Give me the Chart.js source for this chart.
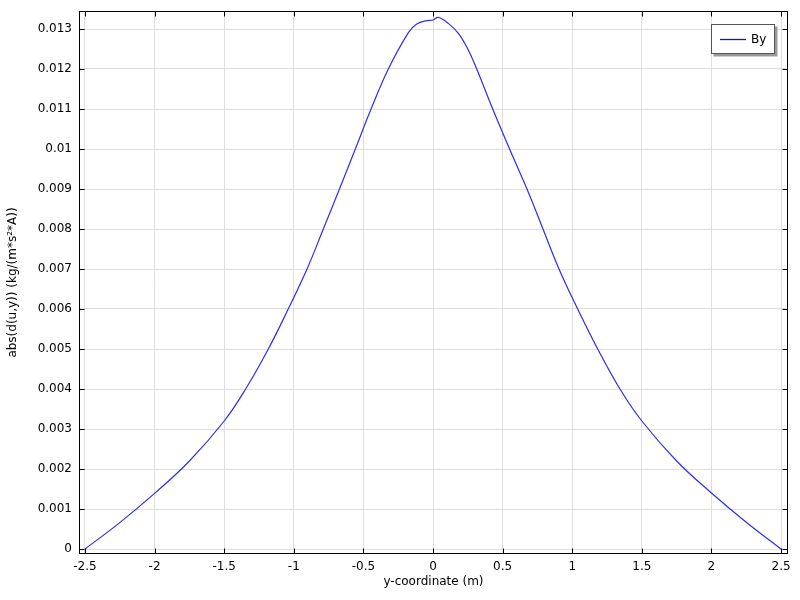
<!DOCTYPE html>
<html>
<head>
<meta charset="utf-8">
<script src="https://cdn.jsdelivr.net/npm/chart.js"></script>
<style>
  html, body { margin: 0; padding: 0; background: #fff; }
  canvas { display: block; }
</style>
</head>
<body>
<canvas id="chart" width="800" height="600"></canvas>
<script>
// y-coordinate (m) and abs(d(u,y)) values
const yCoord = [-2.5, -2.25, -2.0, -1.75, -1.5, -1.346, -1.183, -1.04, -0.905, -0.788, -0.672, -0.558,
  -0.445, -0.321, -0.177, -0.117, -0.045, 0, 0.038, 0.11, 0.182, 0.25, 0.314, 0.429, 0.55, 0.675, 0.79,
  0.905, 1.039, 1.183, 1.343, 1.5, 1.75, 2.0, 2.25, 2.5];
const byValues = [0, 0.00066, 0.00139, 0.0022, 0.0032, 0.004, 0.005, 0.006, 0.007, 0.008, 0.009, 0.01,
  0.011, 0.012, 0.01291, 0.013125, 0.01321, 0.013225, 0.01329, 0.01314, 0.01289, 0.0125, 0.012, 0.011, 0.01, 0.009, 0.008,
  0.007, 0.006, 0.005, 0.004, 0.0032, 0.0022, 0.0014, 0.00067, 0];

const xTickValues = [-2.5, -2, -1.5, -1, -0.5, 0, 0.5, 1, 1.5, 2, 2.5];
const xTickLabels = ["-2.5", "-2", "-1.5", "-1", "-0.5", "0", "0.5", "1", "1.5", "2", "2.5"];
const yTickValues = [0, 0.001, 0.002, 0.003, 0.004, 0.005, 0.006, 0.007, 0.008, 0.009, 0.01, 0.011, 0.012, 0.013];
const yTickLabels = ["0", "0.001", "0.002", "0.003", "0.004", "0.005", "0.006", "0.007", "0.008", "0.009",
  "0.01", "0.011", "0.012", "0.013"];

const lineColor = "rgb(45,45,240)";

Chart.defaults.font.family = "'DejaVu Sans', sans-serif";
Chart.defaults.font.size = 12;
Chart.defaults.color = "#000";

// black frame with short inward ticks on all four sides, plus the boxed legend
const frameAndLegend = {
  id: "frameAndLegend",
  afterDatasetsDraw(chart) {
    const { ctx, chartArea: a, scales: { x, y } } = chart;
    const L = Math.round(a.left) + 0.5, R = Math.round(a.right) - 0.5;
    const T = Math.round(a.top) + 0.5, B = Math.round(a.bottom) - 0.5;
    ctx.save();
    ctx.strokeStyle = "#000";
    ctx.lineWidth = 1;
    ctx.beginPath();
    for (const v of xTickValues) {
      const px = Math.round(x.getPixelForValue(v)) + 0.5;
      ctx.moveTo(px, T); ctx.lineTo(px, T + 5);
      ctx.moveTo(px, B); ctx.lineTo(px, B - 5);
    }
    for (const v of yTickValues) {
      const py = Math.round(y.getPixelForValue(v)) + 0.5;
      ctx.moveTo(L, py); ctx.lineTo(L + 5, py);
      ctx.moveTo(R, py); ctx.lineTo(R - 5, py);
    }
    ctx.stroke();
    ctx.strokeRect(L, T, R - L, B - T);

    // legend box
    const bx = 711.5, by = 24.5, bw = 63, bh = 29;
    ctx.fillStyle = "#9a9a9a";
    ctx.fillRect(bx + 2, by + 2, bw + 1, bh + 1);
    ctx.fillStyle = "#fff";
    ctx.fillRect(bx, by, bw, bh);
    ctx.strokeStyle = "#555";
    ctx.strokeRect(bx, by, bw, bh);
    ctx.strokeStyle = "#1010d0";
    ctx.lineWidth = 1.3;
    ctx.beginPath();
    ctx.moveTo(720, 39.5); ctx.lineTo(746, 39.5);
    ctx.stroke();
    ctx.fillStyle = "#000";
    ctx.font = "12px 'DejaVu Sans', sans-serif";
    ctx.textBaseline = "middle";
    ctx.fillText(chart.data.datasets[0].label, 751, 40);
    ctx.restore();
  }
};

new Chart(document.getElementById("chart"), {
  type: "line",
  data: {
    datasets: [{
      label: "By",
      data: yCoord.map((v, i) => ({ x: v, y: byValues[i] })),
      borderColor: lineColor,
      borderWidth: 1.2,
      pointRadius: 0,
      tension: 0.4,
      fill: false
    }]
  },
  options: {
    responsive: false,
    animation: false,
    devicePixelRatio: 1,
    layout: { padding: { top: 11, right: 12, left: 0, bottom: 0 } },
    plugins: { legend: { display: false }, tooltip: { enabled: false } },
    scales: {
      x: {
        type: "linear",
        min: -2.543,
        max: 2.55,
        afterBuildTicks: (s) => { s.ticks = xTickValues.map(v => ({ value: v })); },
        afterFit: (s) => { s.height = 46; s.paddingLeft = 0; s.paddingRight = 0; },
        ticks: {
          autoSkip: false,
          maxRotation: 0,
          padding: 6,
          callback: (v) => xTickLabels[xTickValues.indexOf(v)]
        },
        grid: { color: "#dedede", drawTicks: false },
        border: { display: false },
        title: { display: true, text: "y-coordinate (m)", padding: { top: 0, bottom: 11 } }
      },
      y: {
        type: "linear",
        min: -0.000125,
        max: 0.01345,
        afterBuildTicks: (s) => { s.ticks = yTickValues.map(v => ({ value: v })); },
        afterFit: (s) => { s.width = 79; s.paddingTop = 0; s.paddingBottom = 0; },
        ticks: {
          autoSkip: false,
          padding: 7,
          callback: (v) => yTickLabels[yTickValues.indexOf(v)]
        },
        grid: { color: "#dedede", drawTicks: false },
        border: { display: false },
        title: { display: true, text: "abs(d(u,y)) (kg/(m*s²*A))", padding: { top: 6, bottom: 0 } }
      }
    }
  },
  plugins: [frameAndLegend]
});
</script>
</body>
</html>
